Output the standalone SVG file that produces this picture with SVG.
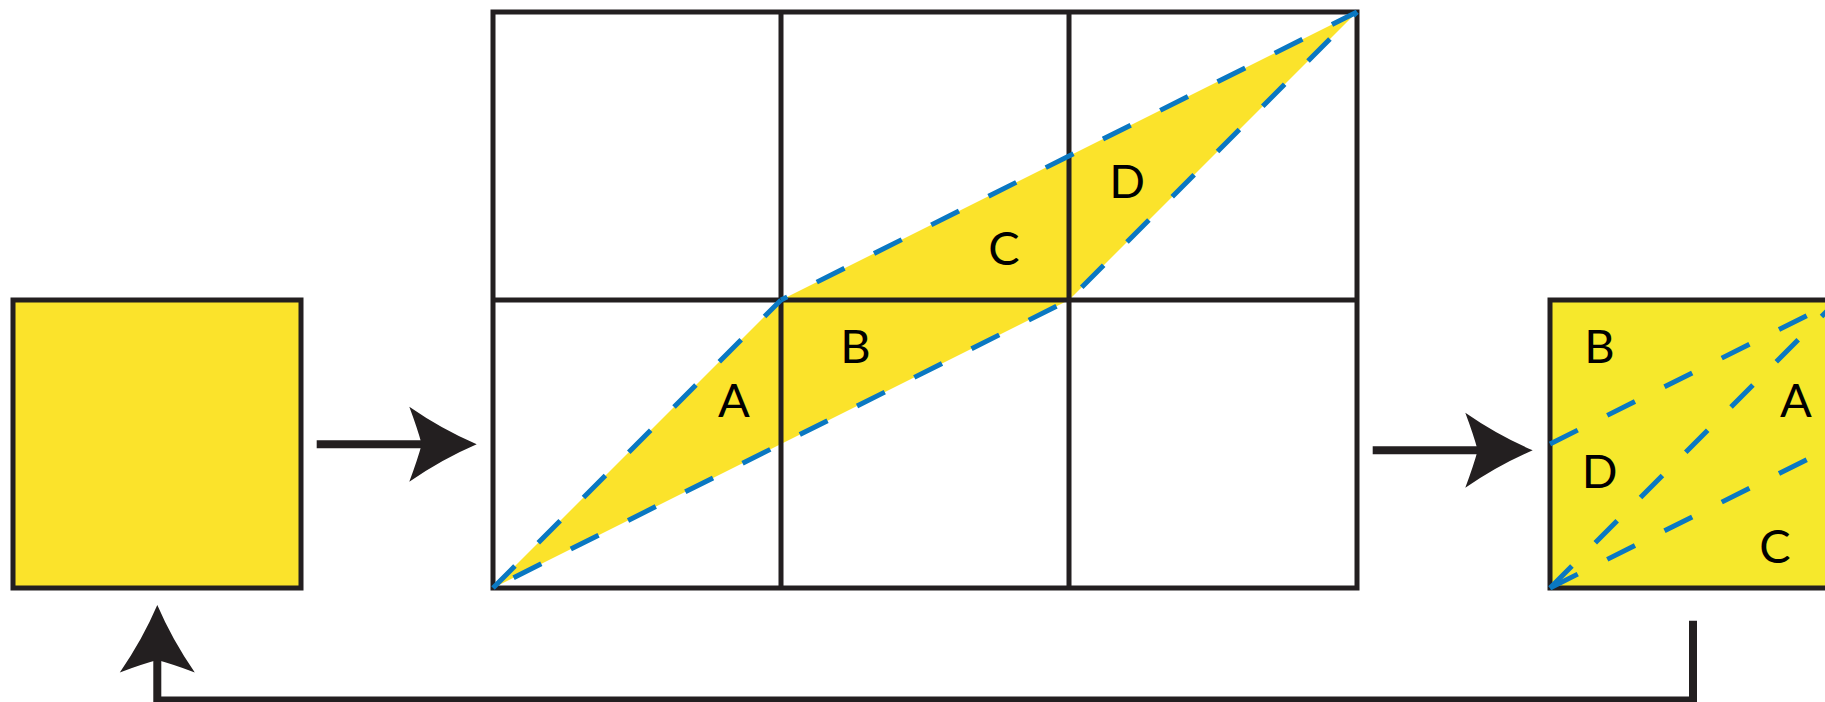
<svg xmlns="http://www.w3.org/2000/svg" xmlns:xlink="http://www.w3.org/1999/xlink" width="1825" height="702" viewBox="0 0 1825 702">
<style>
.frame{stroke:#231f20;stroke-width:5;stroke-linecap:square}
.grid{fill:none;stroke:#231f20;stroke-width:5}
.dash{fill:none;stroke:#0a78c2;stroke-width:5;stroke-dasharray:31 33}
.lbl{font-family:Lato,"Liberation Sans",sans-serif;font-size:47px;fill:#000;text-anchor:middle}
.conn{fill:none;stroke:#231f20;stroke-width:8;stroke-linejoin:miter}
.head{fill:#231f20}
</style>
<defs>
<path id="ah" d="M0,0 Q-35,-15 -67.4,-37.5 Q-59,-15 -55,0 Q-59,15 -67.4,37.5 Q-35,15 0,0 Z"/>
</defs>
<rect width="1825" height="702" fill="#fff"/>
<g id="square-original">
<rect x="13" y="300" width="288" height="288" style="fill:#fbe32b" class="frame"/>
</g>
<g id="grid-figure">
<polygon points="493,588 781,300 1357,12 1069,300" fill="#fbe32b"/>
<g class="grid">
<rect x="493" y="12" width="864" height="576"/>
<line x1="781" y1="12" x2="781" y2="588"/>
<line x1="1069" y1="12" x2="1069" y2="588"/>
<line x1="493" y1="300" x2="1357" y2="300"/>
</g>
<line class="dash" x1="493" y1="588" x2="781" y2="300"/>
<line class="dash" x1="493" y1="588" x2="1069" y2="300" style="stroke-dashoffset:41"/>
<line class="dash" x1="781" y1="300" x2="1357" y2="12" style="stroke-dashoffset:24"/>
<line class="dash" x1="1069" y1="300" x2="1357" y2="12" style="stroke-dashoffset:46"/>
<text class="lbl" x="734" y="417">A</text>
<text class="lbl" x="855.5" y="363">B</text>
<text class="lbl" x="1004" y="265">C</text>
<text class="lbl" x="1127" y="198">D</text>
</g>
<g id="square-result">
<rect x="1550" y="300" width="288" height="288" style="fill:#f6e82c" class="frame"/>
<line class="dash" x1="1550" y1="588" x2="1838" y2="300"/>
<line class="dash" x1="1550" y1="588" x2="1838" y2="444"/>
<line class="dash" x1="1550" y1="444" x2="1838" y2="300"/>
<text class="lbl" x="1599.5" y="363">B</text>
<text class="lbl" x="1796" y="417">A</text>
<text class="lbl" x="1599.5" y="488">D</text>
<text class="lbl" x="1775" y="563">C</text>
</g>
<g id="connectors">
<line class="conn" x1="316.7" y1="444.3" x2="425" y2="444.3"/>
<use xlink:href="#ah" class="head" transform="translate(476.7,444.3)"/>
<line class="conn" x1="1372.7" y1="450.3" x2="1480" y2="450.3"/>
<use xlink:href="#ah" class="head" transform="translate(1532.7,450.3)"/>
<path class="conn" d="M1693,620.7 V700.5 H157.3 V660"/>
<use xlink:href="#ah" class="head" transform="translate(157.3,605) rotate(-90)"/>
</g>
</svg>
